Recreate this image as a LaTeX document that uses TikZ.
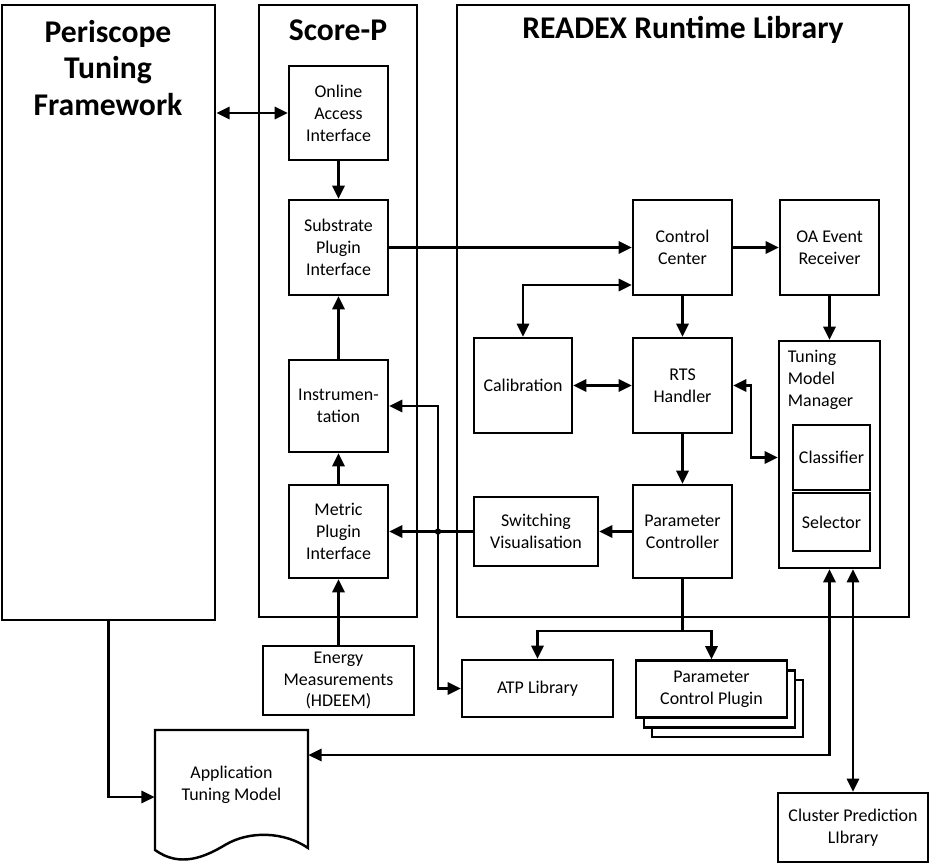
\documentclass[tikz,border=0pt]{standalone}
\usepackage{fontspec}
\setmainfont{Carlito}
\usetikzlibrary{arrows.meta,shadows}

\begin{document}
\begin{tikzpicture}[x=0.02cm,y=-0.02cm,
  >={Triangle[length=7.5pt,width=7pt]},
  sz/.style 2 args={minimum width=#1*0.02cm, minimum height=#2*0.02cm},
  box/.style={draw, line width=1.4pt, fill=white, align=center, inner sep=1pt,
    font=\fontsize{10.2}{12.5}\selectfont},
  frame/.style={draw, line width=1.6pt, inner sep=0pt},
  title/.style={font=\fontsize{18}{21}\selectfont\bfseries, align=center},
  link/.style={line width=1.3pt}]
\useasboundingbox (0,0) rectangle (936,865);

% Outer frames
\node[frame, sz={213}{615}] (pt) at (108.5,312.5) {};
\node[frame, sz={158}{612}] (sp) at (338,311) {};
\node[frame, sz={452}{612}] (rrl) at (683,311) {};
\node[title] (pttitle) at (108,68) {Periscope\\Tuning\\Framework};
\node[title] (sptitle) at (338,30) {Score-P};
\node[title] (rrltitle) at (683,30) {READEX Runtime Library};

% Score-P blocks
\node[box, sz={99}{94}] (oai) at (338.5,113) {Online\\Access\\Interface};
\node[box, sz={99}{95}] (spi) at (338.5,247.5) {Substrate\\Plugin\\Interface};
\node[box, sz={99}{92}] (instr) at (338.5,406) {Instrumen-\\tation};
\node[box, sz={99}{93}] (mpi) at (338.5,531.5) {Metric\\Plugin\\Interface};
\node[box, sz={151}{69}] (energy) at (338.5,680.5) {Energy\\Measurements\\(HDEEM)};

% READEX blocks
\node[box, sz={99}{95}] (cc) at (682.5,247.5) {Control\\Center};
\node[box, sz={99}{95}] (oaer) at (829.5,247.5) {OA Event\\Receiver};
\node[box, sz={98}{95}] (calib) at (523,385.5) {Calibration};
\node[box, sz={99}{95}] (rts) at (682.5,385.5) {RTS\\Handler};
\node[box, sz={124}{69}] (sw) at (536,531.5) {Switching\\Visualisation};
\node[box, sz={99}{93}] (pc) at (682.5,531.5) {Parameter\\Controller};
\node[box, sz={101}{227}] (tmm) at (829.5,454.5) {};
\node[anchor=north west, align=left, inner sep=2pt,
  font=\fontsize{10.2}{12.5}\selectfont] (tmmtext) at (784,346) {Tuning\\Model\\Manager};
\node[box, sz={77}{65}] (cls) at (831.5,457.5) {Classifier};
\node[box, sz={77}{58}] (sel) at (831.5,522) {Selector};

% Libraries below
\node[box, sz={151}{57}] (atp) at (537.5,688.5) {ATP Library};
\node[box, sz={151}{57}, double copy shadow={shadow xshift=4.5pt, shadow yshift=-5.6pt}]
  (pcp) at (711.5,689) {Parameter\\Control Plugin};
\node[box, sz={150}{69}] (cpl) at (853,827.5) {Cluster Prediction\\LIbrary};

% Application tuning model (document)
\draw[line width=1.4pt] (155,730) -- (308,730) -- (308,848)
  .. controls (285,832) and (250,830) .. (225,845)
  .. controls (205,857) and (180,868) .. (155,850) -- cycle;
\node[align=center, sz={153}{120}, font=\fontsize{10.2}{12.5}\selectfont]
  (atm) at (231.5,785) {Application\\Tuning Model};

% Connectors
\draw[link,<->] (pt.east |- oai) -- (oai.west);
\draw[link,->] (oai) -- (spi);
\draw[link,->] (spi) -- (cc);
\draw[link,->] (cc) -- (oaer);
\draw[link,->] (instr) -- (spi);
\draw[link,->] (mpi) -- (instr);
\draw[link,->] (energy) -- (mpi);
\draw[link,->] (cc) -- (rts);
\draw[link,->] (oaer) -- (tmm);
\draw[link,<->] (calib.north) |- ([yshift=-0.75cm]cc.west);
\draw[link,<->] (calib) -- (rts);
\draw[link,<->] (rts.east) -- ++(18,0) |- (tmm.west |- cls);
\draw[link,->] (rts) -- (pc);
\draw[link,->] (pc) -- (sw);
\draw[link,->] (sw) -- (mpi);
\coordinate (jn) at (438,531.5);
\draw[link,<->] (instr.east) -| (jn) |- (atp.west);
\fill (jn) circle (1.8pt);
\draw[link,->] (pc.south) -- ++(0,52) coordinate (split) -| (atp.north);
\draw[link,->] (split) -| (pcp.north);
\draw[link,<->] (tmm.south) |- ([yshift=0.6cm]atm.east);
\draw[link,<->] (tmm.south -| cpl.north) -- (cpl.north);
\draw[link,->] (pt.south) |- ([yshift=-0.24cm]atm.west);

\end{tikzpicture}
\end{document}
